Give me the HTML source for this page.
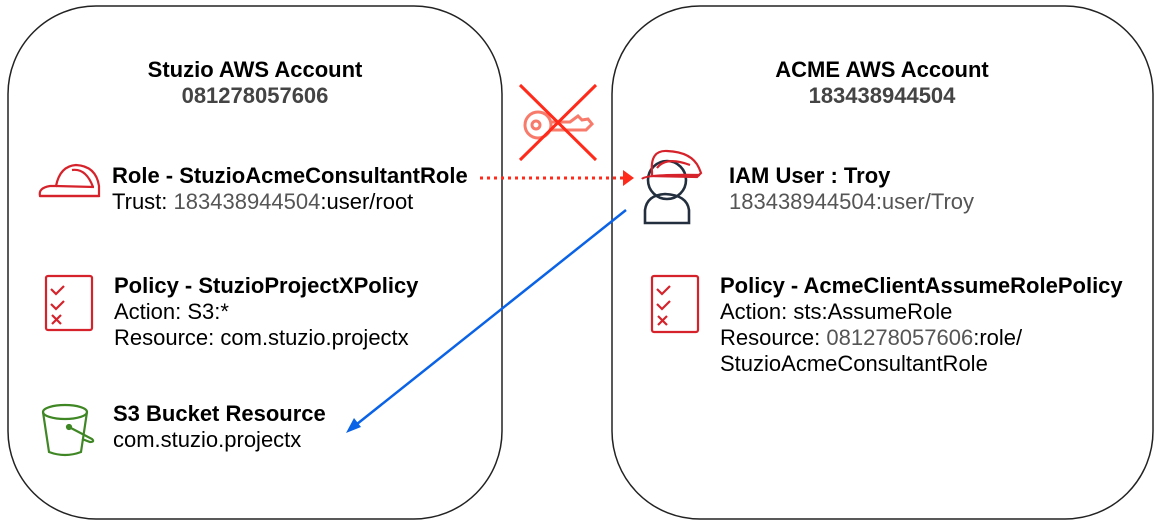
<!DOCTYPE html>
<html><head><meta charset="utf-8"><style>
html,body{margin:0;padding:0;background:#fff}
svg text{font-family:"Liberation Sans",Arial,sans-serif}
.b{font-weight:bold;font-size:22px;fill:#000}
.t{font-size:22px;fill:#000}
.g{fill:#555}
</style></head><body>
<svg width="1159" height="524" viewBox="0 0 1159 524" xmlns="http://www.w3.org/2000/svg">
<rect x="8" y="6" width="494" height="513" rx="88" fill="none" stroke="#222" stroke-width="1.5"/>
<rect x="612" y="6" width="541" height="513" rx="88" fill="none" stroke="#222" stroke-width="1.5"/>

<text x="255" y="77" class="b" text-anchor="middle">Stuzio AWS Account</text>
<text x="255" y="103" class="b" text-anchor="middle" style="fill:#444">081278057606</text>
<text x="882" y="77" class="b" text-anchor="middle">ACME AWS Account</text>
<text x="882" y="103" class="b" text-anchor="middle" style="fill:#444">183438944504</text>

<!-- helmet left -->
<g fill="none" stroke="#d6232b" stroke-width="2.2">
<path d="M40 196 Q38 188 50 186 L56 186 Q60 166 76 165 Q96 166 99 186 L99 196 Z"/>
<path d="M40 196 L99 196"/>
<path d="M56 186 L94 187"/>
<path d="M72 170 Q86 168 93 187"/>
</g>
<text x="112" y="183" class="b">Role - StuzioAcmeConsultantRole</text>
<text x="112" y="209" class="t">Trust: <tspan class="g">183438944504</tspan>:user/root</text>

<!-- policy left -->
<g fill="none" stroke="#d6232b" stroke-width="2.2">
<rect x="46" y="276" width="46" height="54" rx="2"/>
<path d="M51 289 l5 5 l8 -8 M51 304 l5 5 l8 -8 M52 315 l9 9 M61 315 l-9 9"/>
</g>
<text x="114" y="293" class="b">Policy - StuzioProjectXPolicy</text>
<text x="114" y="319" class="t">Action: S3:*</text>
<text x="114" y="345" class="t">Resource: com.stuzio.projectx</text>

<!-- bucket -->
<g fill="none" stroke="#3f8624" stroke-width="2.2">
<ellipse cx="65" cy="412" rx="22" ry="7"/>
<path d="M43 412 L49 452 Q65 458 81 452 L87 412"/>
<path d="M69 427 L92 439 Q95 442 90 442 L82 439"/>
<circle cx="69" cy="427" r="2" fill="#3f8624"/>
</g>
<text x="113" y="421" class="b">S3 Bucket Resource</text>
<text x="113" y="447" class="t">com.stuzio.projectx</text>

<!-- key with X -->
<g fill="none" stroke="#f87a6a" stroke-width="3">
<circle cx="538" cy="125" r="13"/>
<circle cx="536" cy="125" r="4"/>
<path d="M551 122 L570 122 L578 116 L582 120 L588 119 L592 124 L586 130 L551 130"/>
</g>
<path d="M520 85 L596 160 M596 85 L520 160" stroke="#ff2a1a" stroke-width="3"/>

<!-- red dotted arrow -->
<line x1="480" y1="178" x2="624" y2="178" stroke="#ff2a1a" stroke-width="3" stroke-dasharray="3,4"/>
<path d="M623 170 L634 178 L623 186 Z" fill="#ff2a1a"/>

<!-- blue arrow -->
<line x1="626" y1="210" x2="352" y2="428" stroke="#0a62e6" stroke-width="2.5"/>
<path d="M346 433 L354 418 L361 427 Z" fill="#0a62e6"/>

<!-- user icon -->
<g fill="none" stroke="#232f3e" stroke-width="2.6">
<circle cx="667" cy="180" r="19"/>
<path d="M645 223 L645 210 Q647 195 665 194 Q687 195 689 210 L689 223 Z"/>
</g>
<g fill="none" stroke="#d6232b" stroke-width="2.2">
<path d="M652 172 Q650 150 667 151 Q692 152 699 168 L701 173 L697 177 L652 176 Z"/>
<path d="M657 168 Q666 156 690 165"/>
<path d="M642 179 Q646 174 700 175"/>
</g>
<text x="729" y="183" class="b">IAM User : Troy</text>
<text x="729" y="209" class="t" style="fill:#555">183438944504:user/Troy</text>

<!-- policy right -->
<g fill="none" stroke="#d6232b" stroke-width="2.2">
<rect x="652" y="276" width="46" height="56" rx="2"/>
<path d="M657 289 l5 5 l8 -8 M657 304 l5 5 l8 -8 M658 316 l9 9 M667 316 l-9 9"/>
</g>
<text x="720" y="293" class="b">Policy - AcmeClientAssumeRolePolicy</text>
<text x="720" y="319" class="t">Action: sts:AssumeRole</text>
<text x="720" y="345" class="t">Resource: <tspan class="g">081278057606</tspan>:role/</text>
<text x="720" y="371" class="t">StuzioAcmeConsultantRole</text>
</svg>
</body></html>
